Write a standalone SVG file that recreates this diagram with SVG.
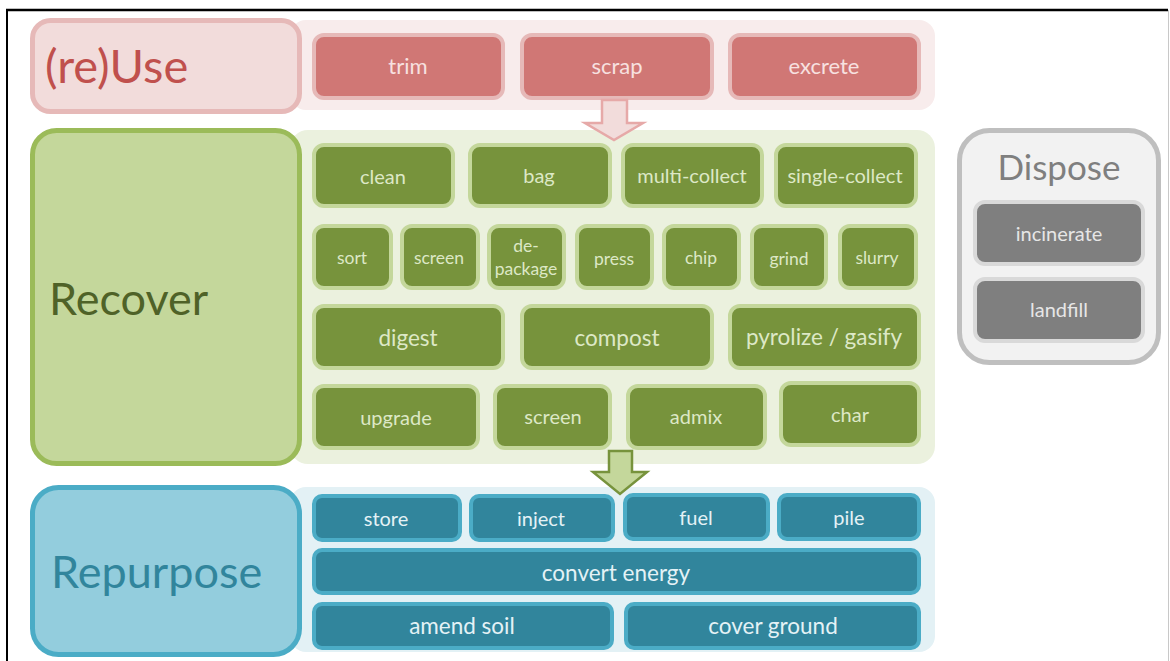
<svg xmlns="http://www.w3.org/2000/svg" width="1170" height="661" viewBox="0 0 1170 661">
  <style>
    text { font-family: Lato, "Open Sans", "Liberation Sans", sans-serif; text-anchor: middle; }
    .strip-use { fill: #f8ecec; }
    .strip-rec { fill: #ebf1de; }
    .strip-rep { fill: #e3f1f5; }
    .hdr-use { fill: #f2dcdb; stroke: #e6b9b8; stroke-width: 5; }
    .hdr-rec { fill: #c4d79b; stroke: #9bbb59; stroke-width: 5; }
    .hdr-rep { fill: #93cddd; stroke: #4bacc6; stroke-width: 5; }
    .hdr-dis { fill: #f2f2f2; stroke: #bfbfbf; stroke-width: 5; }
    .b-use { fill: #d07775; stroke: #e6b9b8; stroke-width: 4; }
    .b-rec { fill: #77933c; stroke: #c4d79b; stroke-width: 4; }
    .b-rep { fill: #31859c; stroke: #4bacc6; stroke-width: 4; }
    .b-dis { fill: #7f7f7f; stroke: #d9d9d9; stroke-width: 4; }
    .t-use { fill: #f7e1e0; font-size: 22px; }
    .t-rec { fill: #dde8c6; font-size: 20px; }
    .t-rec-l { fill: #dde8c6; font-size: 22.5px; }
    .t-rec-s { fill: #dde8c6; font-size: 17.5px; }
    .t-rep { fill: #e4f2f6; font-size: 20px; }
    .t-rep-l { fill: #e4f2f6; font-size: 22.5px; }
    .t-dis { fill: #e6e6e6; font-size: 20px; }
    .h-title { font-size: 45px; text-anchor: start; }
    .h-title.big { font-size: 47px; }
  </style>

  <!-- page frame -->
  <line x1="6" y1="10" x2="1168" y2="10" stroke="#000" stroke-width="2.5"/>
  <line x1="7" y1="10" x2="7" y2="661" stroke="#000" stroke-width="2"/>
  <line x1="1168.5" y1="10" x2="1168.5" y2="661" stroke="#c8c8c8" stroke-width="1"/>

  <!-- (re)Use tier -->
  <g id="reuse">
    <rect class="strip-use" x="290" y="20" width="645" height="90" rx="16"/>
    <rect class="hdr-use" x="32.5" y="20.5" width="267" height="91" rx="18"/>
    <text class="h-title big" x="45" y="83" fill="#c0504d">(re)Use</text>
  </g>
  <g id="reuse-trim">
    <rect class="b-use" x="314" y="35" width="189" height="63" rx="10"/>
    <text class="t-use" x="408" y="74">trim</text>
  </g>
  <g id="reuse-scrap">
    <rect class="b-use" x="522" y="35" width="190" height="63" rx="10"/>
    <text class="t-use" x="617" y="74">scrap</text>
  </g>
  <g id="reuse-excrete">
    <rect class="b-use" x="730" y="35" width="189" height="63" rx="10"/>
    <text class="t-use" x="824" y="74">excrete</text>
  </g>

  <!-- Recover tier -->
  <g id="recover">
    <rect class="strip-rec" x="290" y="130" width="645" height="334" rx="18"/>
    <rect class="hdr-rec" x="32.5" y="130.5" width="267" height="333" rx="24"/>
    <text class="h-title" x="49" y="315" fill="#4f6228">Recover</text>
  </g>
  <g id="rec-clean"><rect class="b-rec" x="314" y="145" width="139" height="61" rx="10"/><text class="t-rec" x="383" y="184">clean</text></g>
  <g id="rec-bag"><rect class="b-rec" x="470" y="145" width="140" height="61" rx="10"/><text class="t-rec" x="539" y="183">bag</text></g>
  <g id="rec-multi"><rect class="b-rec" x="623" y="145" width="139" height="61" rx="10"/><text class="t-rec" x="692" y="183">multi-collect</text></g>
  <g id="rec-single"><rect class="b-rec" x="776" y="145" width="140" height="61" rx="10"/><text class="t-rec" x="845" y="183">single-collect</text></g>

  <g id="rec-sort"><rect class="b-rec" x="314" y="226" width="77" height="62" rx="10"/><text class="t-rec-s" x="352" y="264">sort</text></g>
  <g id="rec-screen1"><rect class="b-rec" x="402" y="226" width="76" height="62" rx="10"/><text class="t-rec-s" x="439" y="264">screen</text></g>
  <g id="rec-depackage"><rect class="b-rec" x="489" y="226" width="75" height="62" rx="10"/><text class="t-rec-s" x="526" y="252">de-</text><text class="t-rec-s" x="526" y="275">package</text></g>
  <g id="rec-press"><rect class="b-rec" x="577" y="226" width="75" height="62" rx="10"/><text class="t-rec-s" x="614" y="265">press</text></g>
  <g id="rec-chip"><rect class="b-rec" x="664" y="226" width="75" height="62" rx="10"/><text class="t-rec-s" x="701" y="264">chip</text></g>
  <g id="rec-grind"><rect class="b-rec" x="752" y="226" width="74" height="62" rx="10"/><text class="t-rec-s" x="789" y="265">grind</text></g>
  <g id="rec-slurry"><rect class="b-rec" x="840" y="226" width="76" height="62" rx="10"/><text class="t-rec-s" x="877" y="264">slurry</text></g>

  <g id="rec-digest"><rect class="b-rec" x="314" y="306" width="189" height="62" rx="10"/><text class="t-rec-l" x="408" y="346">digest</text></g>
  <g id="rec-compost"><rect class="b-rec" x="522" y="306" width="190" height="62" rx="10"/><text class="t-rec-l" x="617" y="346">compost</text></g>
  <g id="rec-pyrolize"><rect class="b-rec" x="730" y="306" width="189" height="62" rx="10"/><text class="t-rec-l" x="824" y="345">pyrolize / gasify</text></g>

  <g id="rec-upgrade"><rect class="b-rec" x="314" y="386" width="164" height="62" rx="10"/><text class="t-rec" x="396" y="425">upgrade</text></g>
  <g id="rec-screen2"><rect class="b-rec" x="495" y="386" width="115" height="62" rx="10"/><text class="t-rec" x="553" y="424">screen</text></g>
  <g id="rec-admix"><rect class="b-rec" x="628" y="386" width="137" height="62" rx="10"/><text class="t-rec" x="696" y="424">admix</text></g>
  <g id="rec-char"><rect class="b-rec" x="781" y="383" width="138" height="62" rx="10"/><text class="t-rec" x="850" y="422">char</text></g>

  <!-- Repurpose tier -->
  <g id="repurpose">
    <rect class="strip-rep" x="290" y="487" width="645" height="165" rx="16"/>
    <rect class="hdr-rep" x="32.5" y="487.5" width="267" height="167" rx="26"/>
    <text class="h-title" x="51" y="588" fill="#31859c">Repurpose</text>
  </g>
  <g id="rep-store"><rect class="b-rep" x="314" y="496" width="146" height="44" rx="8"/><text class="t-rep" x="386" y="526">store</text></g>
  <g id="rep-inject"><rect class="b-rep" x="471" y="496" width="142" height="44" rx="8"/><text class="t-rep" x="541" y="526">inject</text></g>
  <g id="rep-fuel"><rect class="b-rep" x="625" y="495" width="143" height="44" rx="8"/><text class="t-rep" x="696" y="525">fuel</text></g>
  <g id="rep-pile"><rect class="b-rep" x="779" y="495" width="140" height="44" rx="8"/><text class="t-rep" x="849" y="525">pile</text></g>
  <g id="rep-convert"><rect class="b-rep" x="314" y="550" width="605" height="43" rx="8"/><text class="t-rep-l" x="616" y="581">convert energy</text></g>
  <g id="rep-amend"><rect class="b-rep" x="314" y="604" width="298" height="44" rx="8"/><text class="t-rep-l" x="462" y="634">amend soil</text></g>
  <g id="rep-cover"><rect class="b-rep" x="626" y="604" width="293" height="44" rx="8"/><text class="t-rep-l" x="773" y="634">cover ground</text></g>

  <!-- Dispose column -->
  <g id="dispose">
    <rect class="hdr-dis" x="959.5" y="130.5" width="199" height="232" rx="30"/>
    <text x="1059" y="180" font-size="35" fill="#7f7f7f">Dispose</text>
  </g>
  <g id="dis-incinerate"><rect class="b-dis" x="975" y="202" width="168" height="62" rx="10"/><text class="t-dis" x="1059" y="241">incinerate</text></g>
  <g id="dis-landfill"><rect class="b-dis" x="975" y="279" width="168" height="62" rx="10"/><text class="t-dis" x="1059" y="317">landfill</text></g>

  <!-- flow arrows between tiers -->
  <g id="connectors">
    <polygon points="602,100 627,100 627,123 643,123 614,140 585,123 602,123" fill="#f2dcdb" stroke="#e6a9a8" stroke-width="2.5" stroke-linejoin="miter"/>
    <polygon points="609,451 632,451 632,472 647,472 620,494 593,472 609,472" fill="#c4d79b" stroke="#77933c" stroke-width="2.5" stroke-linejoin="miter"/>
  </g>
</svg>
